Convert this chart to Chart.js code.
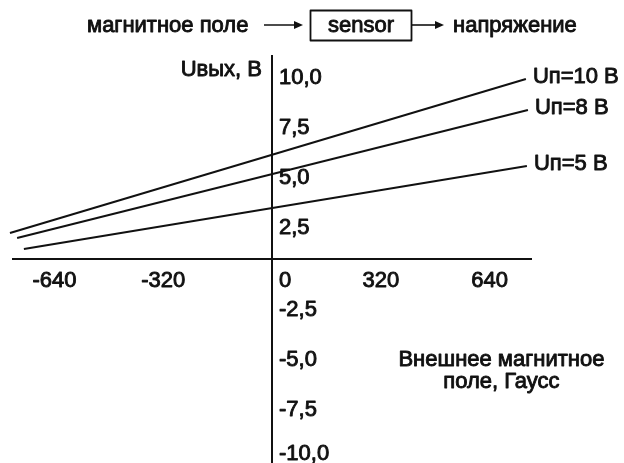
<!DOCTYPE html>
<html>
<head>
<meta charset="utf-8">
<script src="https://cdn.jsdelivr.net/npm/chart.js@4.4.1/dist/chart.umd.min.js"></script>
<style>
  html, body { margin: 0; padding: 0; background: #fff; }
  canvas { display: block; }
</style>
</head>
<body>
<canvas id="c" width="624" height="463"></canvas>
<script>
// ---- data ----
const xTicks = [-640, -320, 0, 320, 640];              // Gauss
const yTicks = [10, 7.5, 5, 2.5, -2.5, -5, -7.5, -10];  // Volts
const seriesNames = ['Uп=10 В', 'Uп=8 В', 'Uп=5 В'];
const fieldUn10 = [-771, 747];
const voltUn10  = [1.3, 9.0];
const fieldUn8  = [-750, 753];
const voltUn8   = [1.05, 7.45];
const fieldUn5  = [-730, 750];
const voltUn5   = [0.5, 4.65];
const headerIn = 'магнитное поле';
const headerBox = 'sensor';
const headerOut = 'напряжение';
const yTitle = 'Uвых, В';
const xTitleLines = ['Внешнее магнитное', 'поле, Гаусс'];

const FONT = '22px "Liberation Sans", Arial, sans-serif';
const INK = '#111';

function pts(xs, ys) { return xs.map((x, i) => ({ x: x, y: ys[i] })); }

const lineStyle = {
  borderColor: INK, borderWidth: 2, pointRadius: 0, tension: 0,
  fill: false, clip: false
};

function txt(ctx, s, x, y, align, base) {
  ctx.textAlign = align; ctx.textBaseline = base;
  ctx.fillText(s, x, y);
  ctx.lineWidth = 0.9; ctx.strokeStyle = INK; ctx.lineJoin = 'round';
  ctx.strokeText(s, x, y);
}

function arrow(ctx, x1, x2, y) {
  ctx.beginPath(); ctx.moveTo(x1, y); ctx.lineTo(x2 - 6, y);
  ctx.lineWidth = 1.6; ctx.strokeStyle = INK; ctx.stroke();
  ctx.beginPath(); ctx.moveTo(x2, y); ctx.lineTo(x2 - 9, y - 4); ctx.lineTo(x2 - 9, y + 4);
  ctx.closePath(); ctx.fillStyle = INK; ctx.fill();
}

const decor = {
  id: 'decor',
  beforeDraw(chart) {
    const ctx = chart.ctx;
    ctx.save(); ctx.fillStyle = '#fff';
    ctx.fillRect(0, 0, chart.width, chart.height); ctx.restore();
  },
  beforeDatasetsDraw(chart) {
    const ctx = chart.ctx, xs = chart.scales.x, ys = chart.scales.y, a = chart.chartArea;
    const x0 = xs.getPixelForValue(0), y0 = ys.getPixelForValue(0);
    ctx.save();
    ctx.strokeStyle = INK; ctx.lineWidth = 2;
    ctx.beginPath(); ctx.moveTo(a.left, y0); ctx.lineTo(a.right, y0); ctx.stroke();
    ctx.beginPath(); ctx.moveTo(x0, a.top); ctx.lineTo(x0, a.bottom); ctx.stroke();
    ctx.restore();
  },
  afterDraw(chart) {
    const ctx = chart.ctx, xs = chart.scales.x, ys = chart.scales.y, a = chart.chartArea;
    const x0 = xs.getPixelForValue(0), y0 = ys.getPixelForValue(0);
    ctx.save();
    ctx.font = FONT; ctx.fillStyle = INK;
    // x tick labels
    xTicks.forEach(v => {
      const px = xs.getPixelForValue(v);
      if (v === 0) txt(ctx, '0', px + 7, y0 + 28, 'left', 'alphabetic');
      else txt(ctx, String(v), px, y0 + 28, 'center', 'alphabetic');
    });
    // y tick labels
    yTicks.forEach(v => {
      const s = v.toFixed(1).replace('.', ',');
      let py = ys.getPixelForValue(v);
      py = v > 0 ? py + 19 : Math.min(py + 1, a.bottom - 9);
      txt(ctx, s, x0 + 7, py, 'left', 'middle');
    });
    // axis titles
    txt(ctx, yTitle, x0 - 10, a.top + 21, 'right', 'alphabetic');
    const cx = xs.getPixelForValue(675);
    txt(ctx, xTitleLines[0], cx, ys.getPixelForValue(-5.35), 'center', 'alphabetic');
    txt(ctx, xTitleLines[1], cx, ys.getPixelForValue(-6.45), 'center', 'alphabetic');
    // series labels at line ends
    chart.data.datasets.forEach((ds, i) => {
      const meta = chart.getDatasetMeta(i);
      const last = meta.data[meta.data.length - 1];
      txt(ctx, seriesNames[i], last.x + 7, last.y - 2, 'left', 'middle');
    });
    // header diagram
    const base = 32;
    txt(ctx, headerIn, 87, base, 'left', 'alphabetic');
    arrow(ctx, 264, 303, 25);
    ctx.lineWidth = 1.8; ctx.strokeStyle = INK;
    ctx.strokeRect(310.5, 10.5, 101, 30);
    txt(ctx, headerBox, 361, base, 'center', 'alphabetic');
    arrow(ctx, 412, 444, 25);
    txt(ctx, headerOut, 453, base, 'left', 'alphabetic');
    ctx.restore();
  }
};

new Chart(document.getElementById('c'), {
  type: 'line',
  data: {
    datasets: [
      Object.assign({ label: seriesNames[0], data: pts(fieldUn10, voltUn10) }, lineStyle),
      Object.assign({ label: seriesNames[1], data: pts(fieldUn8, voltUn8) }, lineStyle),
      Object.assign({ label: seriesNames[2], data: pts(fieldUn5, voltUn5) }, lineStyle)
    ]
  },
  options: {
    responsive: false,
    animation: false,
    devicePixelRatio: 1,
    layout: { padding: { left: 12, right: 92, top: 55, bottom: 0 } },
    plugins: { legend: { display: false }, tooltip: { enabled: false }, title: { display: false } },
    scales: {
      x: { type: 'linear', min: -765, max: 765, display: false },
      y: { type: 'linear', min: -10.2, max: 10.2, display: false }
    }
  },
  plugins: [decor]
});
</script>
</body>
</html>
